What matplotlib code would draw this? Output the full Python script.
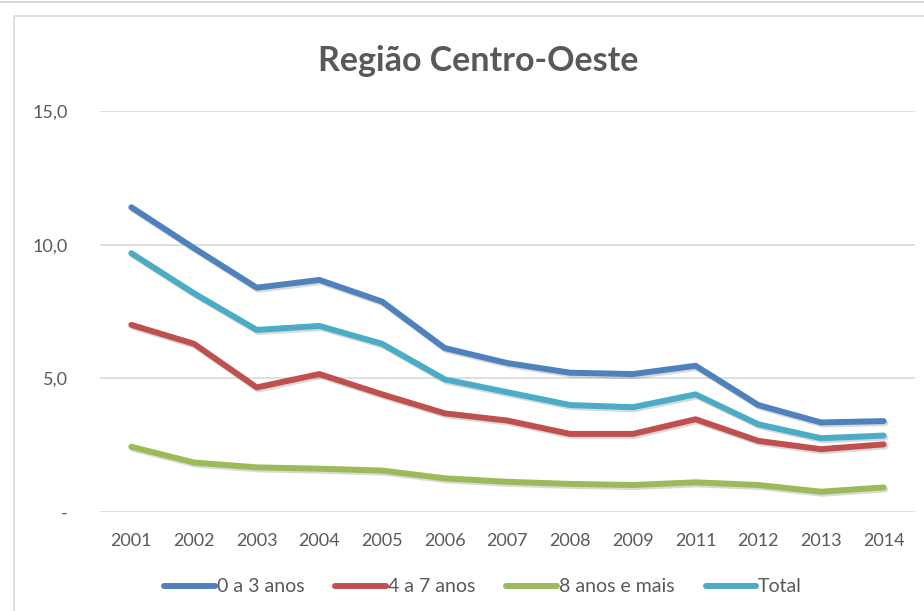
import matplotlib
matplotlib.use("Agg")
import matplotlib.pyplot as plt
import matplotlib.patheffects as pe
from matplotlib.patches import Rectangle
from matplotlib.lines import Line2D

plt.rcParams["font.family"] = ["Lato", "DejaVu Sans"]

anos = ["2001", "2002", "2003", "2004", "2005", "2006", "2007",
        "2008", "2009", "2011", "2012", "2013", "2014"]

zero_a_tres = [11.40, 9.87, 8.39, 8.68, 7.87, 6.13, 5.57, 5.21, 5.16, 5.47, 4.00, 3.35, 3.40]
quatro_a_sete = [7.00, 6.29, 4.66, 5.16, 4.40, 3.69, 3.42, 2.92, 2.92, 3.47, 2.66, 2.35, 2.53]
oito_e_mais = [2.44, 1.85, 1.67, 1.62, 1.55, 1.26, 1.13, 1.05, 1.01, 1.11, 1.01, 0.76, 0.92]
total = [9.68, 8.18, 6.81, 6.96, 6.29, 4.96, 4.48, 4.00, 3.92, 4.40, 3.28, 2.76, 2.86]

series = [
    ("0 a 3 anos", zero_a_tres, "#4F81BD"),
    ("4 a 7 anos", quatro_a_sete, "#C0504D"),
    ("8 anos e mais", oito_e_mais, "#9BBB59"),
    ("Total", total, "#4BACC6"),
]

cinza_texto = "#595959"
cinza_grade = "#D9D9D9"

fig = plt.figure(figsize=(9.24, 6.11), dpi=100)
ax = fig.add_axes([100 / 924, 1 - 512 / 611, 815 / 924, (512 - 111) / 611])

x = list(range(len(anos)))
handles = []
for nome, valores, cor in series:
    ax.plot(x, valores, color=cor, lw=4.3, solid_capstyle="round",
            solid_joinstyle="round", zorder=3,
            path_effects=[pe.SimpleLineShadow(offset=(1.2, -1.5), alpha=0.15),
                          pe.Normal()])
    handles.append(Line2D([], [], color=cor, lw=4.3, solid_capstyle="round"))

ax.set_xlim(-0.5, len(anos) - 0.5)
ax.set_ylim(0, 15)
ax.set_xticks(x)
ax.set_xticklabels(anos)
ax.set_yticks([0, 5, 10, 15])
ax.set_yticklabels(["-", "5,0", "10,0", "15,0"])
ax.tick_params(axis="both", length=0, labelsize=13, colors=cinza_texto)
ax.tick_params(axis="x", pad=15)
ax.tick_params(axis="y", pad=23)
ax.grid(axis="y", color=cinza_grade, lw=1.2)
ax.set_axisbelow(True)
for s in ax.spines.values():
    s.set_visible(False)

fig.text(478 / 924, 1 - 61 / 611, "Região Centro-Oeste", ha="center", va="center",
         fontsize=24.5, fontweight="bold", color=cinza_texto)

fig.legend(handles, [s[0] for s in series], loc="center",
           bbox_to_anchor=(483 / 924, 1 - 587 / 611), ncol=4, frameon=False,
           fontsize=14, labelcolor=cinza_texto, handlelength=2.6,
           handletextpad=0.1, columnspacing=1.6)

# moldura do gráfico
fig.add_artist(Rectangle((14 / 924, -0.05), 1.0, 1 - 16 / 611 + 0.05,
                         transform=fig.transFigure, fill=False,
                         ec=cinza_grade, lw=1.2))
fig.add_artist(Line2D([0, 1], [1 - 2 / 611, 1 - 2 / 611],
                      transform=fig.transFigure, color=cinza_grade, lw=1.5))

fig.savefig("out.png", dpi=100)
